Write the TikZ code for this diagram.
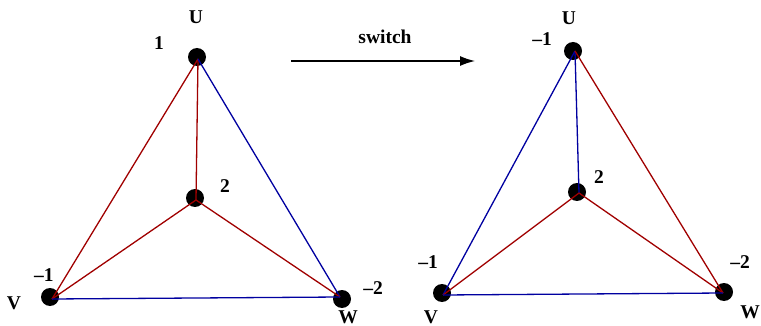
\documentclass[tikz,border=0pt]{standalone}
\usepackage{fontspec}
\setmainfont{Liberation Serif}
\usetikzlibrary{arrows.meta}
\definecolor{ered}{HTML}{A00000}
\definecolor{eblue}{HTML}{0000A0}
\tikzset{
  vdot/.style={circle,fill=black,minimum size=18pt,inner sep=0pt},
  lbl/.style={font=\fontsize{19.5}{19.5}\selectfont\bfseries,inner sep=0pt},
  redge/.style={ered,line width=1.3pt},
  bedge/.style={eblue,line width=1.3pt}
}
\begin{document}
\begin{tikzpicture}[x=1pt,y=-1pt]
\useasboundingbox (0,0) rectangle (761,326);
% left graph
\node[vdot] (LU) at (197,57) {};
\node[vdot] (LV) at (50,297) {};
\node[vdot] (LW) at (342,299) {};
\node[vdot] (LC) at (195,198) {};
\coordinate (lu) at (198,59);
\coordinate (lv) at (52,299);
\coordinate (lw) at (340,297);
\coordinate (lc) at (196,200);
\draw[redge] (lu) -- (lv);
\draw[redge] (lu) -- (lc);
\draw[bedge] (lu) -- (lw);
\draw[redge] (lv) -- (lc);
\draw[redge] (lw) -- (lc);
\draw[bedge] (lv) -- (lw);
\node[lbl] (tLU) at (196,17) {U};
\node[lbl] (nLU) at (159,43) {1};
\node[lbl] (nLV) at (44,275) {–1};
\node[lbl] (tLV) at (14,303) {V};
\node[lbl] (nLW) at (373,288) {–2};
\node[lbl] (tLW) at (348,317) {W};
\node[lbl] (nLC) at (225,186) {2};
% arrow
\coordinate (a1) at (291,61);
\coordinate (a2) at (475,61);
\draw[line width=1.3pt,-{Latex[length=15pt,width=10pt]}] (a1) -- (a2);
\node[lbl] (sw) at (385,37) {switch};
% right graph
\node[vdot] (RU) at (573,51) {};
\node[vdot] (RV) at (442,293) {};
\node[vdot] (RW) at (724,292) {};
\node[vdot] (RC) at (577,192) {};
\coordinate (ru) at (575,51);
\coordinate (rv) at (443,295);
\coordinate (rw) at (723,293);
\coordinate (rc) at (579,193);
\draw[bedge] (ru) -- (rv);
\draw[bedge] (ru) -- (rc);
\draw[redge] (ru) -- (rw);
\draw[redge] (rv) -- (rc);
\draw[redge] (rw) -- (rc);
\draw[bedge] (rv) -- (rw);
\node[lbl] (tRU) at (569,18) {U};
\node[lbl] (nRU) at (542,39) {–1};
\node[lbl] (nRV) at (428,262) {–1};
\node[lbl] (tRV) at (431,317) {V};
\node[lbl] (nRW) at (740,262) {–2};
\node[lbl] (tRW) at (750,312) {W};
\node[lbl] (nRC) at (599,177) {2};
\end{tikzpicture}
\end{document}
